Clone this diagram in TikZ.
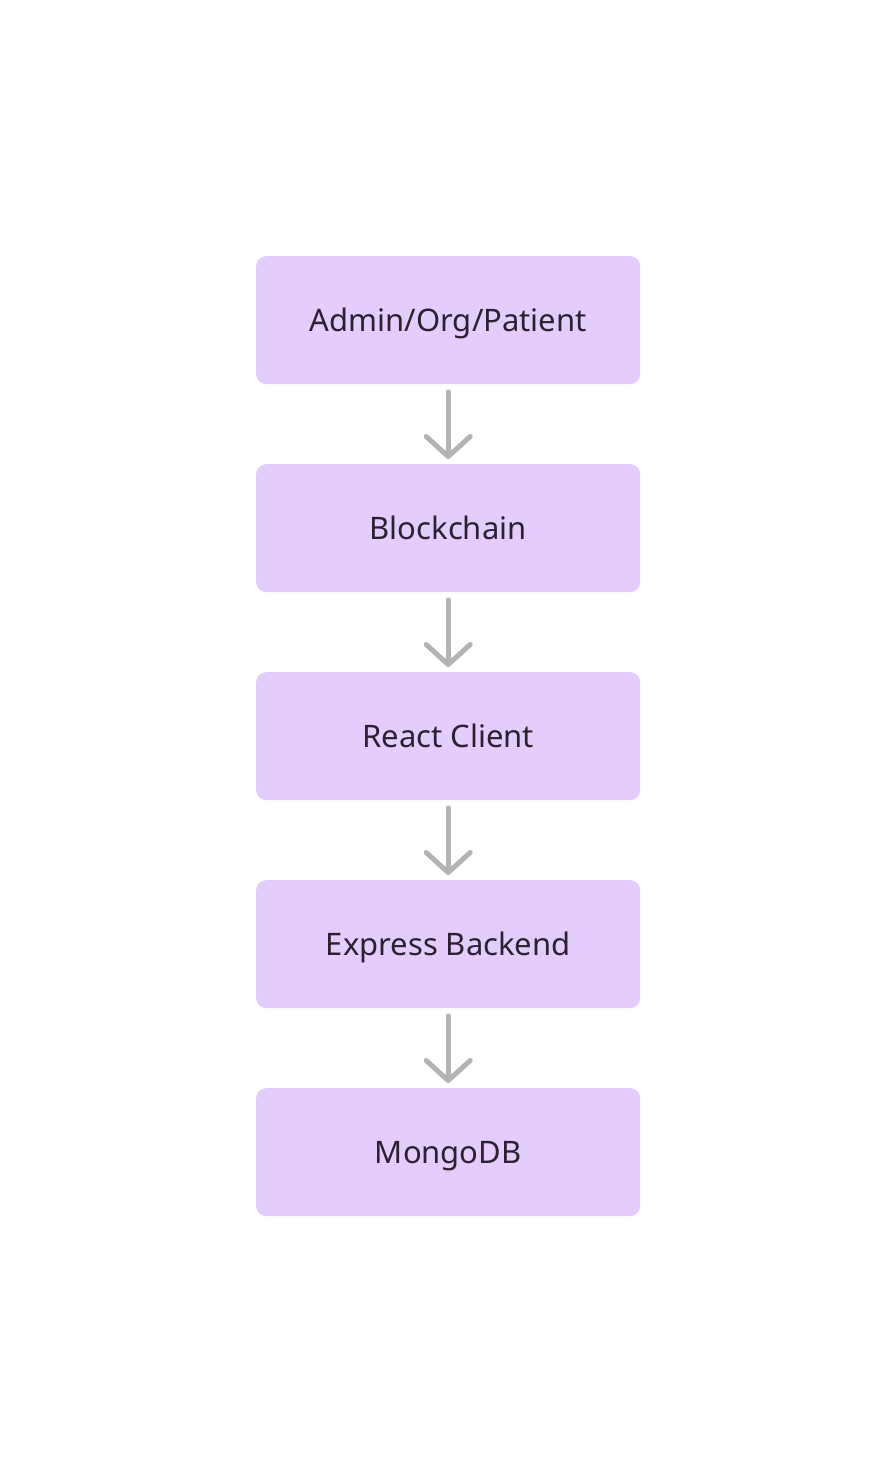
\documentclass[tikz,border=0pt]{standalone}
\usepackage{fontspec}
\setmainfont{Noto Sans}
\usetikzlibrary{arrows.meta}
\definecolor{boxfill}{HTML}{E4CCFC}
\definecolor{boxtext}{HTML}{2A2230}
\definecolor{conncol}{HTML}{B3B3B3}
\tikzset{
  stepbox/.style={fill=boxfill, draw=none, rounded corners=10pt, minimum width=384pt, minimum height=128pt, inner sep=0pt, anchor=north west},
  steplabel/.style={text=boxtext, font=\fontsize{31}{36}\selectfont, anchor=base, inner sep=0pt},
  conn/.style={draw=conncol, line width=5pt, line cap=round, line join=round, -{Straight Barb[length=20pt, width=44pt, round]}, shorten <=7.5pt, shorten >=5pt}
}
\begin{document}
\begin{tikzpicture}[x=1pt,y=-1pt]
\useasboundingbox[fill=white] (0,0) rectangle (896,1472);
\node[stepbox] (a) at (256,256) {};
\node[steplabel] (ta) at ([yshift=-11.5pt]a.center) {Admin/Org/Patient};
\node[stepbox] (b) at (256,464) {};
\node[steplabel] (tb) at ([yshift=-11.5pt]b.center) {Blockchain};
\node[stepbox] (c) at (256,672) {};
\node[steplabel] (tc) at ([yshift=-11.5pt]c.center) {React Client};
\node[stepbox] (d) at (256,880) {};
\node[steplabel] (td) at ([yshift=-11.5pt]d.center) {Express Backend};
\node[stepbox] (e) at (256,1088) {};
\node[steplabel] (te) at ([yshift=-11.5pt]e.center) {MongoDB};
\draw[conn] (a.south) -- (b.north);
\draw[conn] (b.south) -- (c.north);
\draw[conn] (c.south) -- (d.north);
\draw[conn] (d.south) -- (e.north);
\end{tikzpicture}
\end{document}
